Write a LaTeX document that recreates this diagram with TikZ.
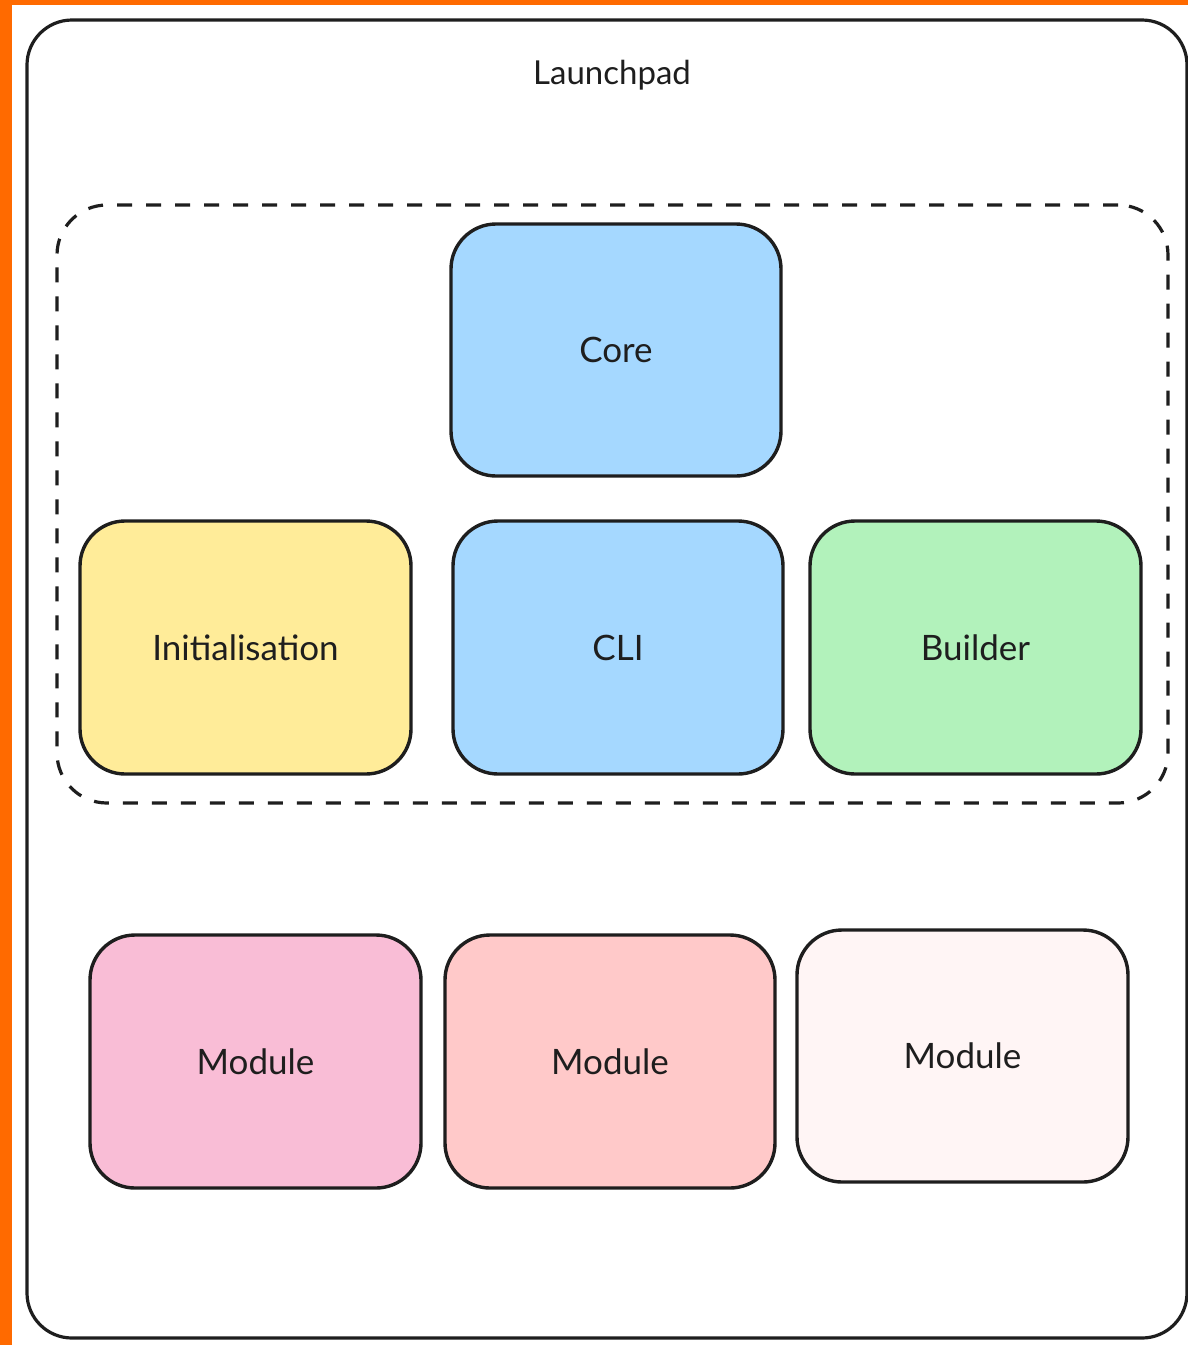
\documentclass[tikz,border=0pt]{standalone}
\usepackage{fontspec}
\setmainfont{Lato}
\definecolor{stroke}{HTML}{1E1E1E}
\definecolor{orangebar}{HTML}{FF6A00}
\definecolor{cblue}{HTML}{A5D8FF}
\definecolor{cyellow}{HTML}{FFEC99}
\definecolor{cgreen}{HTML}{B2F2BB}
\definecolor{cpink}{HTML}{F9BDD6}
\definecolor{cred}{HTML}{FFC9C9}
\definecolor{clight}{HTML}{FFF5F5}
\begin{document}
\begin{tikzpicture}[x=1pt,y=-1pt,
  blockbox/.style={draw=stroke, line width=3.4pt, rounded corners=45pt, inner sep=0pt, outer sep=0pt,
    text=stroke, font=\fontsize{35}{40}\selectfont},
  groupbox/.style={draw=stroke, line width=3.2pt, rounded corners=50pt, dash pattern=on 15pt off 14pt, inner sep=0pt},
  outerbox/.style={draw=stroke, line width=3.2pt, rounded corners=45pt, inner sep=0pt},
  titletext/.style={text=stroke, font=\fontsize{33}{38}\selectfont}]
\useasboundingbox (0,0) rectangle (1188,1345);
\fill[white] (0,0) rectangle (1188,1345);
\fill[orangebar] (0,0) rectangle (12,1345);
\fill[orangebar] (0,0) rectangle (1188,5);
\node[outerbox, minimum width=1160pt, minimum height=1318pt] (launchpad) at (607,679) {};
\node[titletext] (title) at (612,75) {Launchpad};
\node[groupbox, minimum width=1111pt, minimum height=598pt] (group) at (612.5,504) {};
\node[blockbox, fill=cblue, minimum width=330pt, minimum height=252pt] (core) at (616,350) {Core};
\node[blockbox, fill=cyellow, minimum width=331pt, minimum height=253pt] (init) at (245.5,647.5) {Initialisation};
\node[blockbox, fill=cblue, minimum width=330pt, minimum height=253pt] (cli) at (618,647.5) {CLI};
\node[blockbox, fill=cgreen, minimum width=331pt, minimum height=253pt] (builder) at (975.5,647.5) {Builder};
\node[blockbox, fill=cpink, minimum width=331pt, minimum height=253pt] (mod1) at (255.5,1061.5) {Module};
\node[blockbox, fill=cred, minimum width=330pt, minimum height=253pt] (mod2) at (610,1061.5) {Module};
\node[blockbox, fill=clight, minimum width=331pt, minimum height=252pt] (mod3) at (962.5,1056) {Module};
\end{tikzpicture}
\end{document}
